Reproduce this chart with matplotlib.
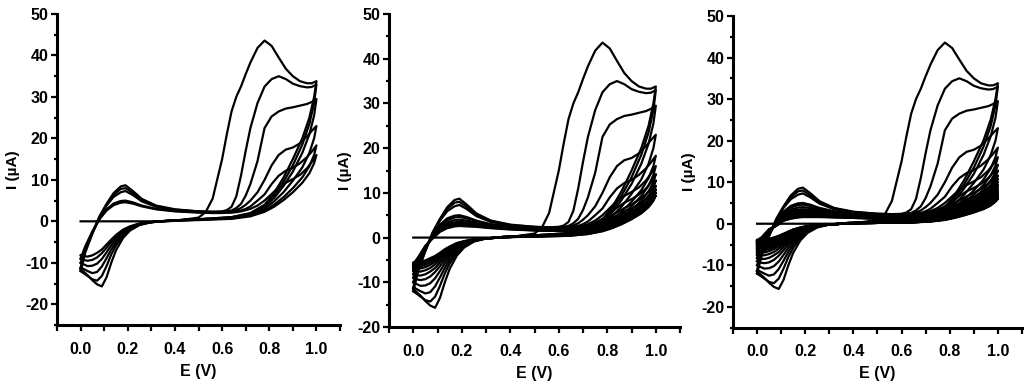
"""
    Repeated CV scans, three electrodes
"""
import numpy as np
import matplotlib
matplotlib.use('Agg')
import matplotlib.pyplot as plt
from matplotlib.ticker import MultipleLocator

plt.rcParams['font.family'] = ['Liberation Sans Narrow', 'DejaVu Sans Condensed', 'Liberation Sans', 'DejaVu Sans']
plt.rcParams['font.stretch'] = 'condensed'
plt.rcParams['font.weight'] = 'bold'

"""
    Data read off the figure (E in V, I in uA)
"""
E_fwd = [0.00, 0.02, 0.05, 0.08, 0.11, 0.14, 0.17, 0.19, 0.22, 0.26, 0.32, 0.40, 0.50, 0.53, 0.56, 0.60,
         0.62, 0.64, 0.66, 0.68, 0.70, 0.72, 0.75, 0.78, 0.81, 0.84, 0.87, 0.90, 0.93, 0.96, 0.98, 1.00]
E_rev = [1.00, 0.99, 0.97, 0.94, 0.90, 0.86, 0.82, 0.78, 0.72, 0.64, 0.50, 0.38, 0.30, 0.25,
         0.21, 0.18, 0.15, 0.13, 0.11, 0.09, 0.07, 0.05, 0.03, 0.01, 0.00]

# forward sweeps, one row per cycle
I_fwd = [
    [0, 0, 0, 0, 0, 0, 0, 0, 0, 0, 0, 0.1, 0.9, 2.2, 5.5, 15, 21, 26.5, 30, 32.5, 35.5, 38.3, 41.8, 43.6, 42.3, 39.5, 36.8, 35, 33.8, 33.3, 33.3, 33.8],
    [-11.5, -7, -2.8, 1.2, 4.2, 6.8, 8.4, 8.7, 7.4, 5.4, 3.8, 2.9, 2.4, 2.35, 2.3, 2.4, 2.7, 3.5, 6, 11, 17, 22.5, 28.5, 32.5, 34.3, 35, 34.3, 33.2, 32.6, 32.3, 32.4, 33.0],
    [-12.0, -7.5, -3, 1.0, 4.0, 6.4, 7.8, 8.0, 6.9, 5.1, 3.7, 2.8, 2.4, 2.35, 2.3, 2.3, 2.4, 2.6, 3.2, 4.2, 6.2, 9, 14.5, 22.5, 25.3, 26.5, 27.2, 27.5, 27.9, 28.3, 28.8, 29.5],
    [-11.2, -7, -2.8, 0.9, 3.8, 5.9, 7.0, 7.3, 6.4, 4.8, 3.5, 2.7, 2.3, 2.25, 2.2, 2.2, 2.3, 2.4, 2.7, 3.2, 4, 5, 7, 10, 13.5, 16, 17.3, 17.8, 18.8, 20.5, 21.8, 23],
    [-10, -6.5, -2.6, 0.6, 2.9, 4.3, 4.9, 5.0, 4.6, 3.8, 3.0, 2.5, 2.2, 2.15, 2.1, 2.1, 2.15, 2.2, 2.4, 2.6, 3.0, 3.6, 5, 6.5, 9, 11, 12.2, 12.9, 14, 15.5, 16.8, 18.3],
    [-9, -6, -2.4, 0.5, 2.6, 3.9, 4.5, 4.6, 4.3, 3.6, 2.9, 2.4, 2.1, 2.05, 2.0, 2.0, 2.05, 2.1, 2.2, 2.4, 2.7, 3.0, 3.8, 5, 6.6, 8.2, 9.3, 10.2, 11.2, 12.8, 14.3, 16],
    [-8.2, -5.6, -2.3, 0.3, 2.2, 3.4, 3.9, 4.0, 3.8, 3.3, 2.7, 2.3, 2.0, 1.95, 1.9, 1.9, 1.95, 2.0, 2.1, 2.2, 2.45, 2.7, 3.3, 4.2, 5.4, 6.7, 7.8, 8.6, 9.6, 11, 12.4, 14.2],
    [-7.5, -5.3, -2.2, 0.2, 1.9, 3.0, 3.4, 3.5, 3.4, 3.0, 2.5, 2.2, 1.9, 1.85, 1.8, 1.8, 1.85, 1.9, 2.0, 2.1, 2.3, 2.5, 3.0, 3.7, 4.6, 5.6, 6.6, 7.4, 8.4, 9.7, 11, 12.8],
    [-7, -5, -2.1, 0.1, 1.7, 2.7, 3.1, 3.2, 3.1, 2.8, 2.4, 2.1, 1.8, 1.75, 1.7, 1.7, 1.75, 1.8, 1.9, 2.0, 2.15, 2.3, 2.8, 3.4, 4.1, 4.9, 5.8, 6.5, 7.4, 8.7, 9.9, 11.6],
    [-6.6, -4.8, -2.0, 0.0, 1.5, 2.5, 2.9, 3.0, 2.9, 2.6, 2.3, 2.0, 1.7, 1.65, 1.6, 1.6, 1.65, 1.7, 1.8, 1.9, 2.05, 2.2, 2.6, 3.1, 3.7, 4.4, 5.2, 5.8, 6.7, 7.9, 9.1, 10.8],
    [-6.2, -4.6, -1.9, -0.1, 1.4, 2.3, 2.7, 2.8, 2.7, 2.5, 2.2, 1.9, 1.6, 1.55, 1.5, 1.5, 1.55, 1.6, 1.7, 1.8, 1.95, 2.1, 2.4, 2.9, 3.4, 4.0, 4.7, 5.3, 6.1, 7.2, 8.4, 10.1],
    [-5.9, -4.4, -1.8, -0.2, 1.3, 2.1, 2.5, 2.6, 2.5, 2.4, 2.1, 1.8, 1.6, 1.55, 1.5, 1.5, 1.5, 1.5, 1.6, 1.7, 1.85, 2.0, 2.3, 2.7, 3.2, 3.7, 4.3, 4.9, 5.6, 6.6, 7.8, 9.4],
    [-5.6, -4.2, -1.7, -0.2, 1.2, 2.0, 2.3, 2.4, 2.4, 2.3, 2.0, 1.8, 1.5, 1.45, 1.4, 1.4, 1.45, 1.5, 1.55, 1.6, 1.75, 1.9, 2.2, 2.5, 3.0, 3.4, 4.0, 4.5, 5.2, 6.1, 7.2, 8.8],
    [-5.3, -4.0, -1.6, -0.3, 1.1, 1.8, 2.1, 2.2, 2.2, 2.1, 1.9, 1.7, 1.5, 1.45, 1.4, 1.4, 1.4, 1.4, 1.5, 1.6, 1.7, 1.8, 2.0, 2.4, 2.8, 3.2, 3.7, 4.2, 4.8, 5.7, 6.7, 8.2],
    [-5.0, -3.8, -1.6, -0.3, 1.0, 1.7, 2.0, 2.1, 2.1, 2.0, 1.9, 1.7, 1.4, 1.35, 1.3, 1.3, 1.35, 1.4, 1.45, 1.5, 1.6, 1.7, 1.9, 2.2, 2.6, 3.0, 3.5, 3.9, 4.5, 5.3, 6.3, 7.7],
    [-4.8, -3.6, -1.5, -0.4, 0.9, 1.6, 1.9, 2.0, 2.0, 1.9, 1.8, 1.6, 1.4, 1.35, 1.3, 1.3, 1.3, 1.3, 1.35, 1.4, 1.5, 1.6, 1.8, 2.1, 2.4, 2.8, 3.2, 3.7, 4.2, 5.0, 5.9, 7.2],
    [-4.6, -3.5, -1.5, -0.4, 0.9, 1.5, 1.8, 1.9, 1.9, 1.8, 1.7, 1.5, 1.3, 1.25, 1.2, 1.2, 1.2, 1.25, 1.3, 1.35, 1.45, 1.5, 1.7, 2.0, 2.3, 2.6, 3.0, 3.5, 4.0, 4.7, 5.6, 6.8],
    [-4.4, -3.4, -1.4, -0.4, 0.8, 1.4, 1.7, 1.8, 1.8, 1.7, 1.6, 1.5, 1.3, 1.25, 1.2, 1.2, 1.2, 1.2, 1.25, 1.3, 1.4, 1.45, 1.6, 1.9, 2.2, 2.5, 2.9, 3.3, 3.8, 4.5, 5.4, 6.5],
    [-4.2, -3.3, -1.4, -0.5, 0.8, 1.3, 1.6, 1.7, 1.7, 1.7, 1.6, 1.4, 1.2, 1.2, 1.15, 1.15, 1.15, 1.2, 1.2, 1.25, 1.35, 1.4, 1.55, 1.8, 2.1, 2.4, 2.8, 3.2, 3.6, 4.3, 5.2, 6.2],
    [-4.0, -3.2, -1.3, -0.5, 0.7, 1.2, 1.5, 1.6, 1.6, 1.6, 1.5, 1.4, 1.2, 1.15, 1.1, 1.1, 1.1, 1.15, 1.2, 1.2, 1.3, 1.35, 1.5, 1.7, 2.0, 2.3, 2.7, 3.0, 3.5, 4.1, 5.0, 6.0],
]

# reverse sweeps, one row per cycle
I_rev = [
    [33.8, 30, 25, 20, 15, 10.5, 6.8, 4, 2, 1, 0.5, 0.2, -0.2, -0.9, -2.2, -4, -7, -10, -13.5, -15.7, -15.2, -14.2, -13, -12, -11.5],
    [33.0, 28.5, 23.5, 18.5, 13.5, 9.5, 6.2, 3.8, 1.9, 1.0, 0.5, 0.2, -0.2, -0.8, -1.9, -3.4, -5.8, -8.0, -10.8, -13.2, -14.3, -14.0, -13.2, -12.4, -12.0],
    [29.5, 25.5, 21, 16.5, 12, 8.5, 5.6, 3.5, 1.8, 0.9, 0.5, 0.2, -0.2, -0.7, -1.7, -3.0, -5.0, -6.8, -8.9, -10.9, -12.2, -12.5, -12.0, -11.4, -11.2],
    [23, 20, 16.5, 13, 9.8, 7, 4.8, 3.0, 1.6, 0.8, 0.4, 0.2, -0.2, -0.6, -1.5, -2.6, -4.3, -5.8, -7.5, -9.1, -10.2, -10.7, -10.8, -10.3, -10.0],
    [18.3, 16, 13.3, 10.6, 8.0, 5.8, 4.0, 2.6, 1.4, 0.7, 0.4, 0.1, -0.2, -0.6, -1.3, -2.3, -3.8, -5.0, -6.4, -7.7, -8.7, -9.3, -9.5, -9.3, -9.0],
    [16, 14, 11.6, 9.3, 7.0, 5.1, 3.5, 2.3, 1.2, 0.6, 0.3, 0.1, -0.2, -0.5, -1.2, -2.0, -3.3, -4.4, -5.6, -6.8, -7.6, -8.2, -8.5, -8.4, -8.2],
    [14.2, 12.4, 10.3, 8.2, 6.2, 4.5, 3.1, 2.0, 1.1, 0.6, 0.3, 0.1, -0.2, -0.5, -1.1, -1.8, -2.9, -3.9, -5.0, -6.0, -6.8, -7.3, -7.6, -7.6, -7.5],
    [12.8, 11.2, 9.3, 7.4, 5.6, 4.1, 2.8, 1.8, 1.0, 0.5, 0.3, 0.1, -0.2, -0.5, -1.0, -1.7, -2.6, -3.5, -4.5, -5.4, -6.1, -6.6, -6.9, -7.0, -7.0],
    [11.6, 10.1, 8.4, 6.7, 5.1, 3.7, 2.6, 1.7, 0.9, 0.5, 0.3, 0.1, -0.2, -0.5, -0.9, -1.5, -2.4, -3.2, -4.1, -4.9, -5.6, -6.1, -6.4, -6.6, -6.6],
    [10.8, 9.4, 7.8, 6.2, 4.7, 3.4, 2.4, 1.6, 0.9, 0.5, 0.3, 0.1, -0.2, -0.4, -0.9, -1.4, -2.2, -3.0, -3.8, -4.6, -5.2, -5.7, -6.0, -6.2, -6.2],
    [10.1, 8.8, 7.3, 5.8, 4.4, 3.2, 2.2, 1.5, 0.8, 0.4, 0.2, 0.1, -0.2, -0.4, -0.8, -1.3, -2.1, -2.8, -3.6, -4.3, -4.9, -5.4, -5.7, -5.9, -5.9],
    [9.4, 8.2, 6.8, 5.4, 4.1, 3.0, 2.1, 1.4, 0.8, 0.4, 0.2, 0.1, -0.2, -0.4, -0.8, -1.2, -2.0, -2.6, -3.4, -4.1, -4.6, -5.1, -5.4, -5.6, -5.6],
    [8.8, 7.7, 6.4, 5.1, 3.8, 2.8, 2.0, 1.3, 0.7, 0.4, 0.2, 0.1, -0.2, -0.4, -0.7, -1.2, -1.9, -2.5, -3.2, -3.9, -4.4, -4.8, -5.1, -5.3, -5.3],
    [8.2, 7.2, 6.0, 4.8, 3.6, 2.6, 1.9, 1.2, 0.7, 0.4, 0.2, 0.1, -0.2, -0.4, -0.7, -1.1, -1.8, -2.4, -3.0, -3.7, -4.2, -4.6, -4.9, -5.0, -5.0],
    [7.7, 6.8, 5.7, 4.5, 3.4, 2.5, 1.8, 1.2, 0.7, 0.4, 0.2, 0.1, -0.2, -0.4, -0.7, -1.1, -1.7, -2.3, -2.9, -3.5, -4.0, -4.4, -4.7, -4.8, -4.8],
    [7.2, 6.4, 5.3, 4.2, 3.2, 2.4, 1.7, 1.1, 0.6, 0.3, 0.2, 0.1, -0.2, -0.3, -0.6, -1.0, -1.6, -2.2, -2.8, -3.4, -3.9, -4.2, -4.5, -4.6, -4.6],
    [6.8, 6.0, 5.0, 4.0, 3.0, 2.3, 1.6, 1.0, 0.6, 0.3, 0.2, 0.1, -0.2, -0.3, -0.6, -1.0, -1.5, -2.1, -2.7, -3.3, -3.7, -4.0, -4.3, -4.4, -4.4],
    [6.5, 5.8, 4.8, 3.8, 2.9, 2.2, 1.5, 1.0, 0.6, 0.3, 0.2, 0.1, -0.2, -0.3, -0.6, -1.0, -1.5, -2.0, -2.6, -3.2, -3.6, -3.9, -4.1, -4.2, -4.2],
    [6.2, 5.5, 4.6, 3.7, 2.8, 2.1, 1.5, 1.0, 0.6, 0.3, 0.2, 0.1, -0.2, -0.3, -0.6, -0.9, -1.4, -1.9, -2.5, -3.0, -3.4, -3.7, -3.9, -4.0, -4.0],
    [6.0, 5.3, 4.4, 3.5, 2.7, 2.0, 1.4, 0.9, 0.5, 0.3, 0.2, 0.1, -0.2, -0.3, -0.5, -0.9, -1.4, -1.9, -2.4, -2.9, -3.3, -3.6, -3.8, -3.9, -3.9],
]

n_cycles = [6, 12, 20]          # scans shown in each panel
y_bottom = [-25, -20, -25]
y_labels = [-20, -10, 0, 10, 20, 30, 40, 50]
x_labels = [0.0, 0.2, 0.4, 0.6, 0.8, 1.0]

"""
    Make plot
"""
fs = 11.5
fig = plt.figure(figsize=[10.27, 3.9], dpi=100)
pos = [[0.0555, 0.1667, 0.2756, 0.7974],
       [0.3788, 0.1615, 0.2834, 0.8026],
       [0.7137, 0.1600, 0.2814, 0.7990]]

E_all = np.array(E_fwd + E_rev)
for p in range(3):
    ax = fig.add_axes(pos[p])
    for k in range(n_cycles[p]):
        I_all = np.array(I_fwd[k] + I_rev[k])
        ax.plot(E_all, I_all, 'k-', lw=1.6, solid_joinstyle='round')

    ax.set_xlim(-0.1, 1.1)
    ax.set_ylim(y_bottom[p], 50)
    for s in ['top', 'right']:
        ax.spines[s].set_visible(False)
    for s in ['left', 'bottom']:
        ax.spines[s].set_linewidth(2.2)
    ax.set_xticks(x_labels)
    ax.set_xticklabels(['%.1f' % v for v in x_labels], fontsize=fs, fontweight='bold')
    ax.set_yticks(y_labels)
    ax.set_yticklabels(['%d' % v for v in y_labels], fontsize=fs, fontweight='bold')
    ax.xaxis.set_minor_locator(MultipleLocator(0.1))
    ax.yaxis.set_minor_locator(MultipleLocator(5))
    ax.tick_params(which='major', direction='out', length=4, width=1.6, pad=2)
    ax.tick_params(which='minor', direction='out', length=2.5, width=1.6)
    ax.tick_params(axis='x', which='both', length=4, pad=8)
    ax.set_xlabel('E (V)', fontsize=11.5, fontweight='bold', labelpad=5)
    ax.set_ylabel('I (\u00b5A)', fontsize=11, fontweight='bold', labelpad=4)

plt.savefig('out.png', dpi=100)
